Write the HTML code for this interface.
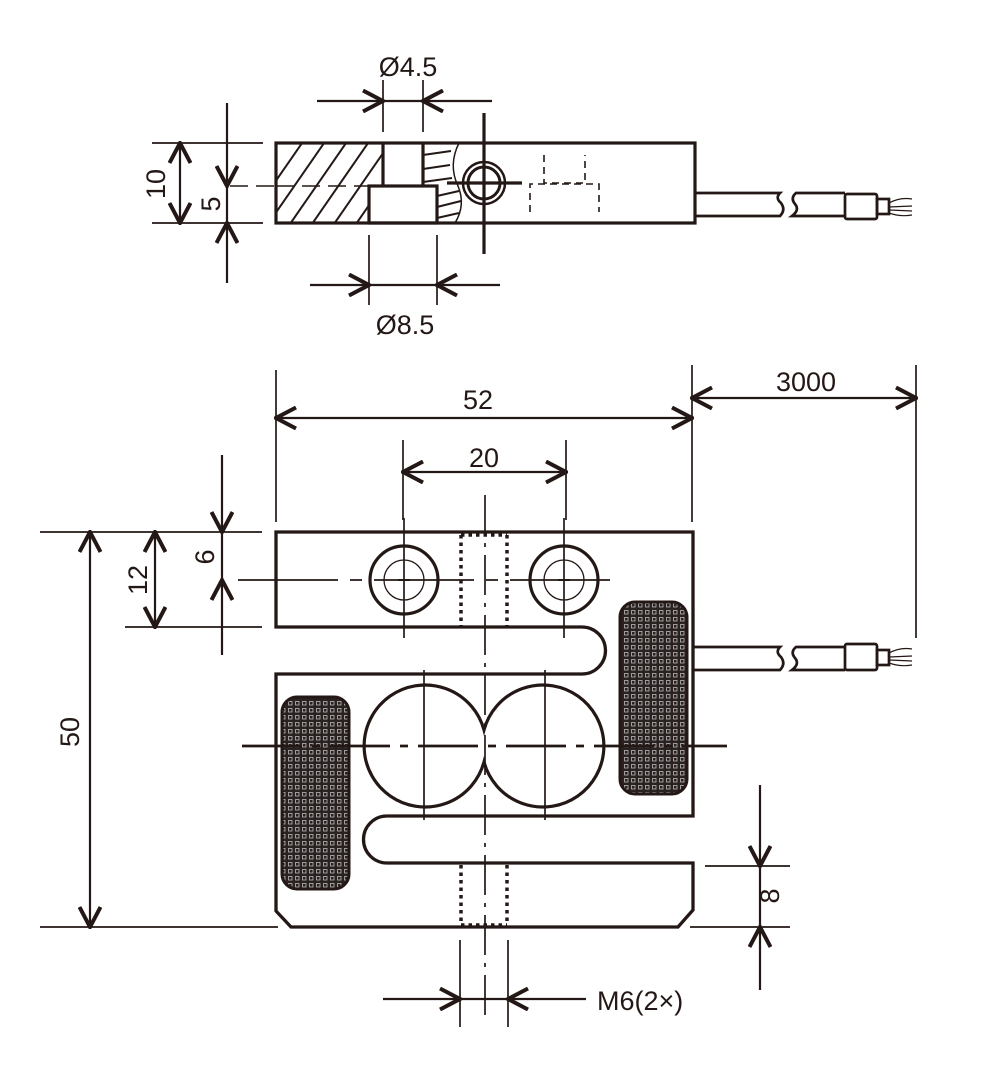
<!DOCTYPE html>
<html><head><meta charset="utf-8"><style>
html,body{margin:0;padding:0;background:#fff;}
svg{display:block;}
text{font-family:"Liberation Sans","DejaVu Sans",sans-serif;fill:#231815;font-size:27px;}
</style></head><body>
<svg width="994" height="1081" viewBox="0 0 994 1081" xmlns="http://www.w3.org/2000/svg">
<defs>
<marker id="a" viewBox="0 0 24 24" refX="22" refY="12" markerWidth="24" markerHeight="24" markerUnits="userSpaceOnUse" orient="auto-start-reverse">
<path d="M2,1.5 L22,12 L2,22.5" fill="none" stroke="#231815" stroke-width="4"/>
</marker>
<pattern id="g" width="7" height="7" patternUnits="userSpaceOnUse">
<rect width="7" height="7" fill="#2a2220"/>
<rect x="1.5" y="1.5" width="3.5" height="3.5" fill="none" stroke="#bbb" stroke-width="0.8"/>
</pattern>
<clipPath id="hc"><path d="M276,143 L383,143 L383,186 L369,186 L369,223 L276,223 Z"/></clipPath>
</defs>
<g stroke="#231815" fill="none" stroke-linecap="butt">
<!-- ===== TOP VIEW ===== -->
<g clip-path="url(#hc)" stroke-width="2">
<line x1="250" y1="250" x2="340" y2="120"/><line x1="272" y1="250" x2="362" y2="120"/>
<line x1="294" y1="250" x2="384" y2="120"/><line x1="316" y1="250" x2="406" y2="120"/>
<line x1="338" y1="250" x2="428" y2="120"/><line x1="228" y1="250" x2="318" y2="120"/>
<line x1="360" y1="250" x2="450" y2="120"/>
</g>
<rect x="276" y="143" width="419" height="80" stroke-width="3.2"/>
<line x1="383" y1="143" x2="383" y2="186" stroke-width="3.2"/>
<line x1="423" y1="143" x2="423" y2="186" stroke-width="3.2"/>
<rect x="369" y="186" width="68" height="37" stroke-width="3.2"/>
<path d="M459,143 Q448,165 458,186 Q466,205 455,223" stroke-width="1.5"/>
<g stroke-width="2">
<line x1="423" y1="155" x2="451" y2="151"/><line x1="423" y1="169" x2="450" y2="165"/><line x1="423" y1="182" x2="452" y2="178"/>
<line x1="437" y1="196" x2="459" y2="191"/><line x1="437" y1="207" x2="461" y2="201"/><line x1="437" y1="218" x2="459" y2="213"/>
</g>
<line x1="230" y1="186" x2="276" y2="186" stroke-width="1.5" stroke-dasharray="18,8"/>
<line x1="276" y1="186" x2="369" y2="186" stroke-width="1.5" stroke-dasharray="18,8"/>
<circle cx="484" cy="183" r="21" stroke-width="2.5"/>
<circle cx="484" cy="183" r="16" stroke-width="3"/>
<line x1="484" y1="113" x2="484" y2="254" stroke-width="3.2"/>
<line x1="447" y1="183" x2="522" y2="183" stroke-width="3.2"/>
<g stroke-width="1.6" stroke-dasharray="7,5">
<path d="M544,155 L544,183 L585,183 L585,155"/>
<path d="M530,212 L530,184 L599,184 L599,212"/>
</g>
<!-- cable top -->
<g stroke-width="2.7">
<path d="M695,193 L780,193 Q775,198 781,203 Q786,210 780,216 L695,216"/>
<path d="M845,193 L796,193 Q790,198 795,204 Q800,210 792,216 L845,216"/>
<rect x="845" y="194" width="32" height="25" rx="2"/>
<rect x="877" y="199" width="12" height="15"/>
<path d="M889,203 Q900,197 912,199 M889,207 L912,206 M889,210 L912,211 M889,213 Q900,217 912,215" stroke-width="1.2"/>
</g>
<!-- top dims -->
<g stroke-width="1.7">
<line x1="383" y1="80" x2="383" y2="132"/><line x1="423" y1="80" x2="423" y2="132"/>
<line x1="369" y1="235" x2="369" y2="305"/><line x1="437" y1="235" x2="437" y2="305"/>
<line x1="152" y1="143" x2="263" y2="143"/><line x1="152" y1="223" x2="263" y2="223"/>
</g>
<g stroke-width="2.2">
<line x1="317" y1="101" x2="383" y2="101" marker-end="url(#a)"/>
<line x1="383" y1="101" x2="423" y2="101"/>
<line x1="492" y1="101" x2="423" y2="101" marker-end="url(#a)"/>
<line x1="310" y1="285" x2="369" y2="285" marker-end="url(#a)"/>
<line x1="369" y1="285" x2="437" y2="285"/>
<line x1="500" y1="285" x2="437" y2="285" marker-end="url(#a)"/>
<line x1="180" y1="143" x2="180" y2="223" marker-start="url(#a)" marker-end="url(#a)"/>
<line x1="227" y1="103" x2="227" y2="186" marker-end="url(#a)"/>
<line x1="227" y1="283" x2="227" y2="223" marker-end="url(#a)"/>
<line x1="227" y1="186" x2="227" y2="223"/>
</g>
<!-- ===== FRONT VIEW ===== -->
<path d="M276,627 L276,532 L693,532 L693,816 L387,816 A23.5,23.5 0 0 0 387,863 L693,863 L693,910 L678,927 L291,927 L276,911 L276,674 L582,674 A23.5,23.5 0 0 0 582,627 Z" stroke-width="3.3"/>
<circle cx="404" cy="580" r="34" stroke-width="3.2"/>
<circle cx="404" cy="580" r="20" stroke-width="1.3"/>
<circle cx="564" cy="580" r="34" stroke-width="3.2"/>
<circle cx="564" cy="580" r="20" stroke-width="1.3"/>
<g stroke-width="2"><line x1="398" y1="580" x2="410" y2="580"/><line x1="558" y1="580" x2="570" y2="580"/></g>
<path d="M484,730 A61,61 0 1 0 484,762 A61,61 0 1 0 484,730 Z" stroke-width="3.2"/>
<g stroke-width="3.5" stroke-dasharray="3.5,4">
<line x1="461" y1="535" x2="461" y2="627"/><line x1="507" y1="535" x2="507" y2="627"/>
<line x1="461" y1="535" x2="507" y2="535"/>
<line x1="461" y1="865" x2="461" y2="925"/><line x1="507" y1="865" x2="507" y2="925"/>
<line x1="461" y1="925" x2="507" y2="925"/>
</g>
<rect x="282" y="697" width="67" height="192" rx="15" fill="url(#g)" stroke-width="3"/>
<rect x="620" y="602" width="67" height="192" rx="15" fill="url(#g)" stroke-width="3"/>
<!-- center lines -->
<g stroke-width="1.7">
<line x1="485" y1="495" x2="485" y2="1020" stroke-dasharray="40,8,4,8"/>
<line x1="404" y1="518" x2="404" y2="638"/><line x1="564" y1="518" x2="564" y2="638"/>
<line x1="238" y1="580" x2="613" y2="580" stroke-dasharray="100,12,12,12"/>
<line x1="424" y1="670" x2="424" y2="820"/><line x1="545" y1="670" x2="545" y2="820"/>
</g>
<line x1="242" y1="746" x2="727" y2="746" stroke-width="2.7" stroke-dasharray="60,10,8,10"/>
<!-- cable front -->
<g stroke-width="2.7">
<path d="M693,647 L780,647 Q775,652 781,657 Q786,664 780,670 L693,670"/>
<path d="M845,647 L796,647 Q790,652 795,658 Q800,664 792,670 L845,670"/>
<rect x="845" y="644" width="32" height="26" rx="2"/>
<rect x="877" y="650" width="12" height="15"/>
<path d="M889,653 Q900,647 912,649 M889,657 L912,656 M889,660 L912,661 M889,663 Q900,667 912,665" stroke-width="1.2"/>
</g>
<!-- front dims -->
<g stroke-width="1.7">
<line x1="276" y1="370" x2="276" y2="522"/><line x1="692" y1="365" x2="692" y2="522"/>
<line x1="916" y1="365" x2="916" y2="638"/>
<line x1="403" y1="440" x2="403" y2="520"/><line x1="566" y1="440" x2="566" y2="520"/>
<line x1="40" y1="532" x2="262" y2="532"/><line x1="40" y1="927" x2="278" y2="927"/>
<line x1="125" y1="627" x2="262" y2="627"/>
<line x1="705" y1="866" x2="790" y2="866"/><line x1="690" y1="927" x2="790" y2="927"/>
<line x1="460" y1="940" x2="460" y2="1027"/><line x1="508" y1="940" x2="508" y2="1027"/>
</g>
<g stroke-width="2.2">
<line x1="276" y1="418" x2="692" y2="418" marker-start="url(#a)" marker-end="url(#a)"/>
<line x1="692" y1="398" x2="916" y2="398" marker-start="url(#a)" marker-end="url(#a)"/>
<line x1="403" y1="472" x2="566" y2="472" marker-start="url(#a)" marker-end="url(#a)"/>
<line x1="90" y1="532" x2="90" y2="927" marker-start="url(#a)" marker-end="url(#a)"/>
<line x1="155" y1="532" x2="155" y2="627" marker-start="url(#a)" marker-end="url(#a)"/>
<line x1="222" y1="455" x2="222" y2="532" marker-end="url(#a)"/>
<line x1="222" y1="532" x2="222" y2="580"/>
<line x1="222" y1="655" x2="222" y2="580" marker-end="url(#a)"/>
<line x1="760" y1="785" x2="760" y2="866" marker-end="url(#a)"/>
<line x1="760" y1="866" x2="760" y2="927"/>
<line x1="760" y1="990" x2="760" y2="927" marker-end="url(#a)"/>
<line x1="383" y1="999" x2="460" y2="999" marker-end="url(#a)"/>
<line x1="460" y1="999" x2="508" y2="999"/>
<line x1="586" y1="999" x2="508" y2="999" marker-end="url(#a)"/>
</g>
</g>
<!-- text -->
<text x="408" y="76" text-anchor="middle">Ø4.5</text>
<text x="405" y="334" text-anchor="middle">Ø8.5</text>
<text transform="translate(165,184) rotate(-90)" text-anchor="middle">10</text>
<text transform="translate(220,204) rotate(-90)" text-anchor="middle">5</text>
<text x="478" y="409" text-anchor="middle">52</text>
<text x="806" y="391" text-anchor="middle">3000</text>
<text x="484" y="467" text-anchor="middle">20</text>
<text transform="translate(79,732) rotate(-90)" text-anchor="middle">50</text>
<text transform="translate(147,580) rotate(-90)" text-anchor="middle">12</text>
<text transform="translate(214,557) rotate(-90)" text-anchor="middle">6</text>
<text transform="translate(779,896) rotate(-90)" text-anchor="middle">8</text>
<text x="597" y="1010">M6(2×)</text>
</svg>
</body></html>
